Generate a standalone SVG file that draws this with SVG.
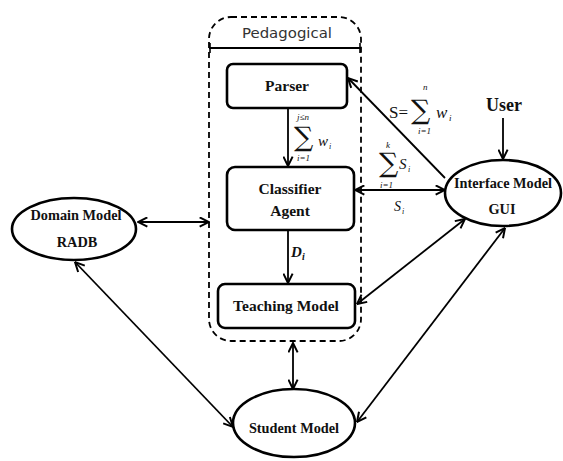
<svg xmlns="http://www.w3.org/2000/svg" width="563" height="461" viewBox="0 0 563 461">
<style>
.node{fill:#fff;stroke:#000;stroke-width:2.6}
.lbl{font-family:"Liberation Serif",serif;font-weight:bold;font-size:14.3px;fill:#111;text-anchor:middle}
.big{font-size:15.5px}
.m{font-family:"Liberation Serif",serif;font-style:italic;fill:#111}
.sum{font-family:"DejaVu Serif",serif;font-size:27px;fill:#111}
.c{fill:none;stroke:#000;stroke-width:1.8}
</style>
<defs>
<marker id="ah" viewBox="0 0 10 10" refX="9.5" refY="5" markerWidth="11" markerHeight="11" markerUnits="userSpaceOnUse" orient="auto-start-reverse">
<path d="M1,0.8 L9.5,5 L1,9.2" fill="none" stroke="#000" stroke-width="1.8"/>
</marker>
</defs>
<rect width="563" height="461" fill="#fff"/>
<g id="pedagogical">
<rect x="209" y="17" width="152" height="324" rx="22" ry="22" fill="none" stroke="#000" stroke-width="1.8" stroke-dasharray="6,4"/>
<line x1="209" y1="48" x2="361" y2="48" stroke="#000" stroke-width="2"/>
<line x1="210" y1="43" x2="210" y2="53" stroke="#000" stroke-width="1.6"/>
<line x1="360" y1="43" x2="360" y2="53" stroke="#000" stroke-width="1.6"/>
<text x="287" y="38" font-family="DejaVu Sans,sans-serif" font-size="14" fill="#333" text-anchor="middle" textLength="90" lengthAdjust="spacingAndGlyphs">Pedagogical</text>
</g>
<g id="parser">
<rect class="node" x="227" y="64" width="120" height="44" rx="6"/>
<text class="lbl big" x="287" y="91">Parser</text>
</g>
<g id="classifier">
<rect class="node" x="227" y="167" width="127" height="63" rx="8"/>
<text class="lbl big" x="290" y="194">Classifier</text>
<text class="lbl big" x="290" y="216">Agent</text>
</g>
<g id="teaching">
<rect class="node" x="218" y="284" width="137" height="44" rx="7"/>
<text class="lbl big" x="286" y="311">Teaching Model</text>
</g>
<g id="domain">
<ellipse class="node" cx="74" cy="229" rx="62" ry="31"/>
<text class="lbl" x="76" y="220">Domain Model</text>
<text class="lbl" x="77" y="247">RADB</text>
</g>
<g id="interface">
<ellipse class="node" cx="503" cy="193" rx="58" ry="33"/>
<text class="lbl" x="503" y="188">Interface Model</text>
<text class="lbl" x="502" y="214">GUI</text>
</g>
<g id="student">
<ellipse class="node" cx="294" cy="423" rx="61" ry="34"/>
<text class="lbl" x="294" y="433">Student Model</text>
</g>
<g id="user">
<text class="lbl" x="504" y="111" style="font-size:18px">User</text>
</g>
<g id="connectors">
<line class="c" x1="288" y1="108" x2="288" y2="166" marker-end="url(#ah)"/>
<line class="c" x1="288" y1="230" x2="288" y2="283" marker-end="url(#ah)"/>
<line class="c" x1="445" y1="178" x2="348" y2="78" marker-end="url(#ah)"/>
<line class="c" x1="503" y1="118" x2="503" y2="159" marker-end="url(#ah)"/>
<line class="c" x1="138" y1="222" x2="209" y2="222" marker-start="url(#ah)" marker-end="url(#ah)"/>
<line class="c" x1="355" y1="190" x2="445" y2="190" marker-start="url(#ah)" marker-end="url(#ah)"/>
<line class="c" x1="357" y1="304" x2="465" y2="219" marker-start="url(#ah)" marker-end="url(#ah)"/>
<line class="c" x1="293" y1="343" x2="293" y2="389" marker-start="url(#ah)" marker-end="url(#ah)"/>
<line class="c" x1="357" y1="422" x2="505" y2="228" marker-start="url(#ah)" marker-end="url(#ah)"/>
<line class="c" x1="75" y1="262" x2="233" y2="427" marker-start="url(#ah)" marker-end="url(#ah)"/>
</g>
<g id="labels">
<text class="m" x="297" y="120" font-size="9">j≤n</text>
<text class="sum" x="294" y="146">∑</text>
<text class="m" x="318" y="146" font-size="15">w</text>
<text class="m" x="329" y="149" font-size="8">i</text>
<text class="m" x="297" y="161" font-size="9">i=1</text>
<text class="m" x="291" y="257" font-size="15" font-weight="bold">D</text>
<text class="m" x="302" y="260" font-size="10" font-weight="bold">i</text>
<text x="389" y="118" font-family="Liberation Serif,serif" font-size="17" fill="#111">S=</text>
<text class="m" x="423" y="90" font-size="9">n</text>
<text class="sum" x="411" y="119">∑</text>
<text class="m" x="436" y="118" font-size="17">w</text>
<text class="m" x="449" y="121" font-size="9">i</text>
<text class="m" x="418" y="134" font-size="9">i=1</text>
<text class="m" x="386" y="148" font-size="9">k</text>
<text class="sum" x="379" y="172">∑</text>
<text class="m" x="399" y="169" font-size="15">S</text>
<text class="m" x="408" y="172" font-size="8">i</text>
<text class="m" x="380" y="188" font-size="9">i=1</text>
<text class="m" x="394" y="211" font-size="14">S</text>
<text class="m" x="402" y="214" font-size="8">i</text>
</g>
</svg>
